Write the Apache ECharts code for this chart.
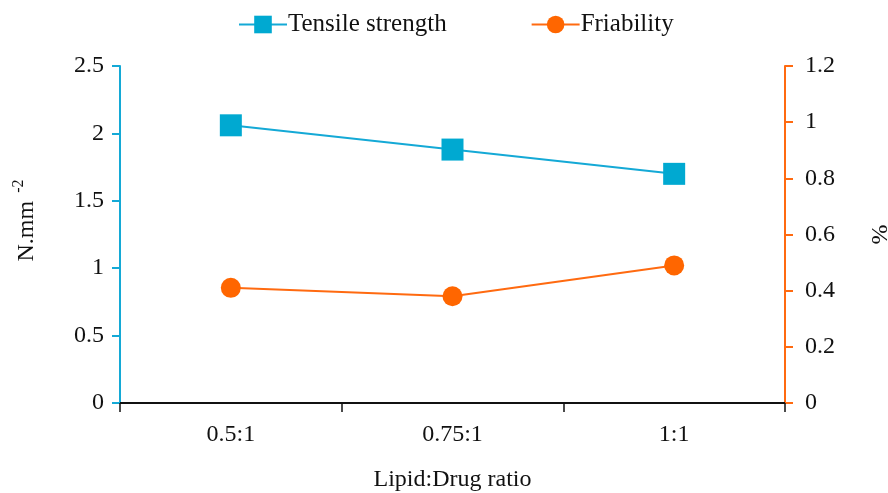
<!DOCTYPE html>
<html><head><meta charset="utf-8">
<script src="https://cdn.jsdelivr.net/npm/echarts@6/dist/echarts.min.js"></script>
<style>html,body{margin:0;padding:0;background:#fff}#c{width:888px;height:493px}</style>
</head><body><div id="c"></div>
<script>
const categories = ['0.5:1', '0.75:1', '1:1'];
const tensile = [2.06, 1.88, 1.70];
const friability = [0.41, 0.38, 0.49];
const leftTicks = [0, 0.5, 1, 1.5, 2, 2.5];
const rightTicks = [0, 0.2, 0.4, 0.6, 0.8, 1, 1.2];

const cyan = '#14A9D6';
const orange = '#FF6A10';
const font = 'Liberation Serif';

const chart = echarts.init(document.getElementById('c'));
chart.setOption({
  animation: false,
  textStyle: { fontFamily: font },
  legend: {
    top: 7, left: 233, itemGap: 84, itemWidth: 48, itemHeight: 22,
    textStyle: { fontFamily: font, fontSize: 25, color: '#111', padding: [0, 0, 0, -4] },
    data: ['Tensile strength', 'Friability']
  },
  grid: { left: 120, right: 103, top: 66, bottom: 90, containLabel: false, outerBoundsMode: 'none' },
  xAxis: {
    type: 'category', data: categories, boundaryGap: true,
    name: 'Lipid:Drug ratio', nameLocation: 'middle', nameGap: 65,
    nameTextStyle: { fontFamily: font, fontSize: 24, color: '#111' },
    axisLine: { lineStyle: { color: '#111', width: 2 } },
    axisTick: { show: true, length: 9, lineStyle: { color: '#111', width: 1.5 } },
    axisLabel: { fontFamily: font, fontSize: 24, color: '#111', margin: 20 }
  },
  yAxis: [
    {
      type: 'value', min: leftTicks[0], max: leftTicks[leftTicks.length - 1], interval: 0.5,
      position: 'left',
      name: '{b|N.mm }{s|-2}', nameLocation: 'middle', nameGap: 77, nameRotate: 90,
      nameTextStyle: { padding: [0, 0, 0, 28], rich: { b: { fontFamily: font, fontSize: 24, color: '#111' }, s: { fontFamily: font, fontSize: 16, color: '#111', verticalAlign: 'top', padding: [0, 0, 16, 2] } } },
      axisLine: { show: true, lineStyle: { color: cyan, width: 2 } },
      axisTick: { show: true, length: 8, lineStyle: { color: cyan, width: 2 } },
      axisLabel: { fontFamily: font, fontSize: 24, color: '#111', margin: 16 },
      splitLine: { show: false }
    },
    {
      type: 'value', min: rightTicks[0], max: rightTicks[rightTicks.length - 1], interval: 0.2,
      position: 'right',
      name: '%', nameLocation: 'middle', nameGap: 84, nameRotate: 90,
      nameTextStyle: { fontFamily: font, fontSize: 24, color: '#111' },
      axisLine: { show: true, lineStyle: { color: orange, width: 2 } },
      axisTick: { show: true, length: 8, lineStyle: { color: orange, width: 2 } },
      axisLabel: { fontFamily: font, fontSize: 24, color: '#111', margin: 20 },
      splitLine: { show: false }
    }
  ],
  series: [
    {
      name: 'Tensile strength', type: 'line', yAxisIndex: 0, data: tensile,
      symbol: 'rect', symbolSize: 22,
      lineStyle: { color: cyan, width: 2 }, itemStyle: { color: '#00A9D1' }
    },
    {
      name: 'Friability', type: 'line', yAxisIndex: 1, data: friability,
      symbol: 'circle', symbolSize: 20,
      lineStyle: { color: orange, width: 2 }, itemStyle: { color: '#FF6600' }
    }
  ]
});
</script></body></html>
